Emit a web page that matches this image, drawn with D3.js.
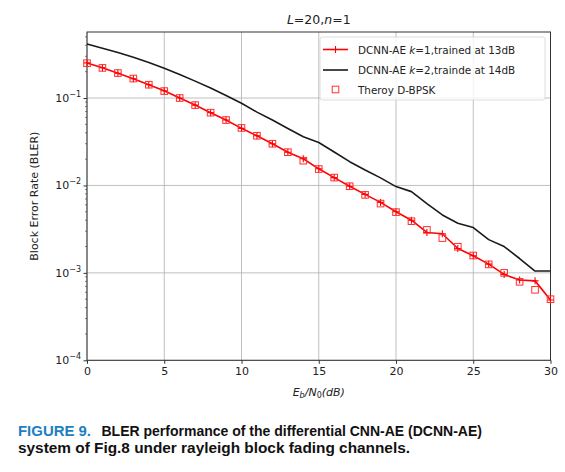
<!DOCTYPE html>
<html>
<head>
<meta charset="utf-8">
<script src="https://cdn.jsdelivr.net/npm/d3@7"></script>
<style>
  body { margin: 0; background: #fff; }
  svg { display: block; font-family: "DejaVu Sans", sans-serif; }
</style>
</head>
<body>
<div id="chart"></div>
<script>
// Eb/N0 in dB
var snr = d3.range(0, 31);

// DCNN-AE k=1, trained at 13dB (red line with + markers)
var bler_k1 = [0.252, 0.222, 0.192, 0.166, 0.142, 0.121, 0.100, 0.083, 0.068, 0.056,
               0.045, 0.037, 0.030, 0.024, 0.0202, 0.0155, 0.0123, 0.0098, 0.0079, 0.0064,
               0.0050, 0.0040, 0.0029, 0.0028, 0.0019, 0.00157, 0.00126, 0.00096, 0.00083, 0.00081,
               0.00049];

// DCNN-AE k=2, trainde at 14dB (black line)
var bler_k2 = [0.415, 0.370, 0.331, 0.292, 0.255, 0.219, 0.186, 0.156, 0.130, 0.107,
               0.087, 0.069, 0.056, 0.0448, 0.036, 0.031, 0.0241, 0.0187, 0.0150, 0.0122,
               0.0097, 0.0085, 0.0062, 0.0046, 0.0037, 0.0033, 0.0024, 0.0020, 0.00146, 0.00105,
               0.00105];

// Theory D-BPSK (red open squares)
var bler_theory = [0.250, 0.221, 0.193, 0.167, 0.142, 0.120, 0.100, 0.083, 0.068, 0.056,
                   0.0455, 0.037, 0.030, 0.024, 0.0192, 0.0154, 0.0123, 0.0098, 0.0078, 0.0062,
                   0.00495, 0.0039, 0.0031, 0.0025, 0.00199, 0.00158, 0.00125, 0.00100, 0.00079, 0.00064,
                   0.0005];

var xTicks = [0, 5, 10, 15, 20, 25, 30];
var yTicks = [1e-1, 1e-2, 1e-3, 1e-4];
var yExps = ["\u22121", "\u22122", "\u22123", "\u22124"];

var W = 565, H = 472;
var margin = {top: 32, right: 14.5, bottom: 111.7, left: 87};
var width = W - margin.left - margin.right;
var height = H - margin.top - margin.bottom;

var svg = d3.select("#chart").append("svg")
    .attr("width", W)
    .attr("height", H);

var g = svg.append("g").attr("transform", "translate(" + margin.left + "," + margin.top + ")");

var x = d3.scaleLinear().domain([0, 30]).range([0, width]);
var y = d3.scaleLog().domain([1e-4, 0.569]).range([height, 0]);

// grid
g.append("g").selectAll("line").data(xTicks).enter().append("line")
    .attr("x1", function(d) { return x(d); })
    .attr("x2", function(d) { return x(d); })
    .attr("y1", 0).attr("y2", height)
    .attr("stroke", "#b0b0b0").attr("stroke-width", 0.8);

g.append("g").selectAll("line").data(yTicks).enter().append("line")
    .attr("y1", function(d) { return y(d); })
    .attr("y2", function(d) { return y(d); })
    .attr("x1", 0).attr("x2", width)
    .attr("stroke", "#b0b0b0").attr("stroke-width", 0.8);

// axes
var xAxis = g.append("g")
    .attr("transform", "translate(0," + height + ")")
    .call(d3.axisBottom(x).tickValues(xTicks).tickSize(3.5).tickPadding(3).tickFormat(d3.format("d")));
xAxis.select(".domain").remove();
xAxis.selectAll("text").attr("font-size", 11).attr("fill", "#222")
    .attr("font-family", "DejaVu Sans, sans-serif");
xAxis.selectAll("line").attr("stroke", "#333");

// minor ticks for the log axis
var minor = [];
[1e-4, 1e-3, 1e-2, 1e-1].forEach(function(base) {
    for (var k = 2; k <= 9; k++) {
        var v = base * k;
        if (v <= 0.569) minor.push(v);
    }
});
g.append("g").selectAll("line").data(minor).enter().append("line")
    .attr("x1", -2).attr("x2", 0)
    .attr("y1", function(d) { return y(d); })
    .attr("y2", function(d) { return y(d); })
    .attr("stroke", "#333").attr("stroke-width", 0.6);

var yAxis = g.append("g")
    .call(d3.axisLeft(y).tickValues(yTicks).tickSize(3.5).tickFormat(""));
yAxis.select(".domain").remove();
yAxis.selectAll("line").attr("stroke", "#333");

var yLab = g.append("g").selectAll("text").data(yTicks).enter().append("text")
    .attr("x", -6)
    .attr("y", function(d) { return y(d) + 4; })
    .attr("text-anchor", "end")
    .attr("font-size", 11)
    .attr("fill", "#222");
yLab.append("tspan").text("10");
yLab.append("tspan")
    .attr("dy", -5)
    .attr("font-size", 8)
    .text(function(d, i) { return yExps[i]; });

// frame
g.append("rect")
    .attr("width", width).attr("height", height)
    .attr("fill", "none").attr("stroke", "#333").attr("stroke-width", 1);

// lines
var line = function(vals) {
    return d3.line()
        .x(function(d, i) { return x(snr[i]); })
        .y(function(d) { return y(d); })(vals);
};

var plot = g.append("g");

plot.append("path")
    .attr("d", line(bler_k2))
    .attr("fill", "none")
    .attr("stroke", "#1a1a1a")
    .attr("stroke-width", 1.6)
    .attr("stroke-linejoin", "round");

plot.append("path")
    .attr("d", line(bler_k1))
    .attr("fill", "none")
    .attr("stroke", "#ff0000")
    .attr("stroke-width", 1.6)
    .attr("stroke-linejoin", "round");

plot.append("g").selectAll("path").data(bler_k1).enter().append("path")
    .attr("d", function(d, i) {
        var cx = x(snr[i]), cy = y(d), r = 3.5;
        return "M" + (cx - r) + "," + cy + "H" + (cx + r) + "M" + cx + "," + (cy - r) + "V" + (cy + r);
    })
    .attr("stroke", "#ff0000")
    .attr("stroke-width", 1.1);

plot.append("g").selectAll("rect").data(bler_theory).enter().append("rect")
    .attr("x", function(d, i) { return x(snr[i]) - 3.3; })
    .attr("y", function(d) { return y(d) - 3.3; })
    .attr("width", 6.6).attr("height", 6.6)
    .attr("fill", "none")
    .attr("stroke", "#ff3030")
    .attr("stroke-width", 1);

// legend
var lg = svg.append("g").attr("transform", "translate(320,37)");
lg.append("rect")
    .attr("width", 225).attr("height", 63)
    .attr("rx", 2.5)
    .attr("fill", "rgba(255,255,255,0.8)")
    .attr("stroke", "#d4d4d4")
    .attr("stroke-width", 0.8);

var rows = [12.5, 33, 52.5];
lg.append("line").attr("x1", 3).attr("x2", 28).attr("y1", rows[0]).attr("y2", rows[0])
    .attr("stroke", "#ff0000").attr("stroke-width", 1.6);
lg.append("path")
    .attr("d", "M12,12.5H19M15.5,9V16")
    .attr("stroke", "#ff0000").attr("stroke-width", 1.1);
lg.append("line").attr("x1", 3).attr("x2", 28).attr("y1", rows[1]).attr("y2", rows[1])
    .attr("stroke", "#1a1a1a").attr("stroke-width", 1.6);
lg.append("rect").attr("x", 12.2).attr("y", rows[2] - 3.3).attr("width", 6.6).attr("height", 6.6)
    .attr("fill", "none").attr("stroke", "#ff3030").attr("stroke-width", 1);

var lfs = 10.4;
var t1 = lg.append("text").attr("x", 38).attr("y", rows[0] + 4).attr("font-size", lfs).attr("fill", "#222");
t1.append("tspan").text("DCNN-AE ");
t1.append("tspan").attr("font-style", "italic").text("k");
t1.append("tspan").text("=1,trained at 13dB");

var t2 = lg.append("text").attr("x", 38).attr("y", rows[1] + 4).attr("font-size", lfs).attr("fill", "#222");
t2.append("tspan").text("DCNN-AE ");
t2.append("tspan").attr("font-style", "italic").text("k");
t2.append("tspan").text("=2,trainde at 14dB");

lg.append("text").attr("x", 38).attr("y", rows[2] + 4).attr("font-size", lfs).attr("fill", "#222")
    .text("Theroy D-BPSK");

// title
var title = svg.append("text")
    .attr("x", margin.left + width / 2).attr("y", 24)
    .attr("text-anchor", "middle")
    .attr("font-size", 12.5).attr("fill", "#222");
title.append("tspan").attr("font-style", "italic").text("L");
title.append("tspan").text("=20,");
title.append("tspan").attr("font-style", "italic").text("n");
title.append("tspan").text("=1");

// axis labels
var xl = svg.append("text")
    .attr("x", margin.left + width / 2).attr("y", 396)
    .attr("text-anchor", "middle")
    .attr("font-size", 11).attr("fill", "#222").attr("font-style", "italic");
xl.append("tspan").text("E");
xl.append("tspan").attr("font-size", 8).attr("dy", 2).text("b");
xl.append("tspan").attr("dy", -2).text("/N");
xl.append("tspan").attr("font-size", 8).attr("dy", 2).attr("font-style", "normal").text("0");
xl.append("tspan").attr("dy", -2).text("(dB)");

svg.append("text")
    .attr("transform", "translate(38," + (margin.top + height / 2) + ") rotate(-90)")
    .attr("text-anchor", "middle")
    .attr("font-size", 11).attr("fill", "#222")
    .text("Block Error Rate (BLER)");

// caption
var capFont = "Liberation Sans, Arial, sans-serif";
svg.append("text")
    .attr("x", 18).attr("y", 436)
    .attr("font-family", capFont)
    .attr("font-weight", "bold")
    .attr("font-size", 14)
    .attr("fill", "#1b7fc1")
    .attr("textLength", 73).attr("lengthAdjust", "spacingAndGlyphs")
    .text("FIGURE 9.");

svg.append("text")
    .attr("x", 101.5).attr("y", 436)
    .attr("font-family", capFont)
    .attr("font-weight", "bold")
    .attr("font-size", 14)
    .attr("fill", "#111")
    .attr("textLength", 380.5).attr("lengthAdjust", "spacingAndGlyphs")
    .text("BLER performance of the differential CNN-AE (DCNN-AE)");

svg.append("text")
    .attr("x", 18).attr("y", 453)
    .attr("font-family", capFont)
    .attr("font-weight", "bold")
    .attr("font-size", 14)
    .attr("fill", "#111")
    .attr("textLength", 392).attr("lengthAdjust", "spacingAndGlyphs")
    .text("system of Fig.8 under rayleigh block fading channels.");
</script>
</body>
</html>
